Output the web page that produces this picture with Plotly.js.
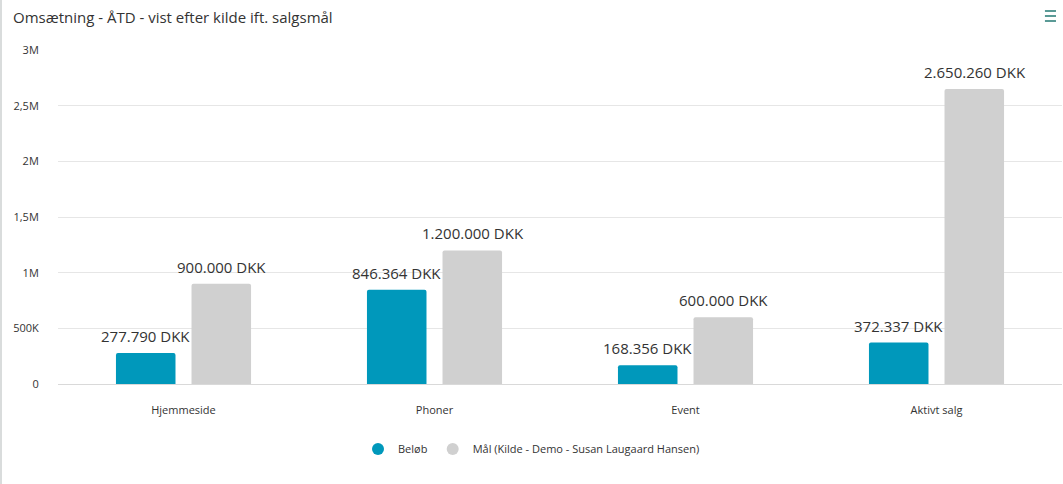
<!DOCTYPE html>
<html>
<head>
<meta charset="utf-8">
<script src="https://cdn.plot.ly/plotly-3.0.1.min.js"></script>
<style>
html,body{margin:0;padding:0;background:#fff;}
#chart{width:1063px;height:484px;}
#lb{position:absolute;left:0;top:0;width:2px;height:484px;background:#d9dcdc;}
</style>
</head>
<body>
<div id="chart"></div>
<div id="lb"></div>
<script>
const categories = ["Hjemmeside", "Phoner", "Event", "Aktivt salg"];
const belob = [277790, 846364, 168356, 372337];
const maal = [900000, 1200000, 600000, 2650260];
const yTickVals = [0, 500000, 1000000, 1500000, 2000000, 2500000, 3000000];
const yTickText = ["0", "500K", "1M", "1,5M", "2M", "2,5M", "3M"];
const seriesNames = ["Beløb", "Mål (Kilde - Demo - Susan Laugaard Hansen)"];
const colors = ["#0098bb", "#d0d0d0"];

function dkk(v) {
  return String(v).replace(/\B(?=(\d{3})+(?!\d))/g, ".") + " DKK";
}

const FONT = "Open Sans, Noto Sans, sans-serif";
const barCommon = {
  type: "bar",
  x: categories,
  showlegend: false,
  hoverinfo: "x+y"
};

const traces = [
  Object.assign({}, barCommon, {y: belob, marker: {color: colors[0], cornerradius: 2}, name: seriesNames[0]}),
  Object.assign({}, barCommon, {y: maal, marker: {color: colors[1], cornerradius: 2}, name: seriesNames[1]}),
  {type: "scatter", mode: "markers", x: [null], y: [null], name: seriesNames[0], marker: {color: colors[0], size: 12, symbol: "circle"}, showlegend: true},
  {type: "scatter", mode: "markers", x: [null], y: [null], name: seriesNames[1], marker: {color: colors[1], size: 12, symbol: "circle"}, showlegend: true}
];

const labelFont = {family: FONT, size: 15, color: "#333333"};
const annotations = [];
[[belob, -38], [maal, 38]].forEach(function (pair) {
  const vals = pair[0], dx = pair[1];
  vals.forEach(function (v, i) {
    annotations.push({
      x: categories[i], y: v, xref: "x", yref: "y",
      text: dkk(v), showarrow: false,
      xanchor: "center", yanchor: "bottom",
      xshift: dx, yshift: 5,
      font: labelFont
    });
  });
});

const layout = {
  width: 1063, height: 484,
  margin: {l: 58, r: 1, t: 50, b: 100},
  paper_bgcolor: "#ffffff", plot_bgcolor: "#ffffff",
  font: {family: FONT, color: "#333333", size: 11},
  title: {
    text: "Omsætning - ÅTD - vist efter kilde ift. salgsmål",
    x: 13/1063, xanchor: "left", xref: "container",
    y: 1 - 18/484, yanchor: "middle", yref: "container",
    font: {family: FONT, size: 15, color: "#333333"}
  },
  barmode: "group",
  bargap: 0.398,
  bargroupgap: 0.212,
  xaxis: {
    type: "category",
    showgrid: false, zeroline: false, showline: false,
    ticks: "outside", ticklen: 16, tickcolor: "rgba(0,0,0,0)",
    tickfont: {family: FONT, size: 11, color: "#333333"},
    fixedrange: true
  },
  yaxis: {
    range: [0, 3000000],
    tickvals: yTickVals, ticktext: yTickText,
    showgrid: true, gridcolor: "#e6e6e6", gridwidth: 1,
    zeroline: true, zerolinecolor: "#d9d9d9", zerolinewidth: 1,
    showline: false,
    ticks: "outside", ticklen: 16, tickcolor: "rgba(0,0,0,0)",
    tickfont: {family: FONT, size: 11, color: "#333333"},
    fixedrange: true
  },
  legend: {
    orientation: "h", x: 0.5, xref: "container", xanchor: "center",
    y: 1 - 449/484, yref: "container", yanchor: "middle",
    font: {family: FONT, size: 11, color: "#333333"},
    itemsizing: "constant"
  },
  annotations: annotations,
  shapes: [1.1168, 1.1018, 1.0868].map(function (yy) {
    return {type: "line", xref: "paper", yref: "paper", x0: 0.983, x1: 0.994, y0: yy, y1: yy, line: {color: "#5a9a96", width: 2}};
  })
};

Plotly.newPlot("chart", traces, layout, {displayModeBar: false, responsive: false});
</script>
</body>
</html>
